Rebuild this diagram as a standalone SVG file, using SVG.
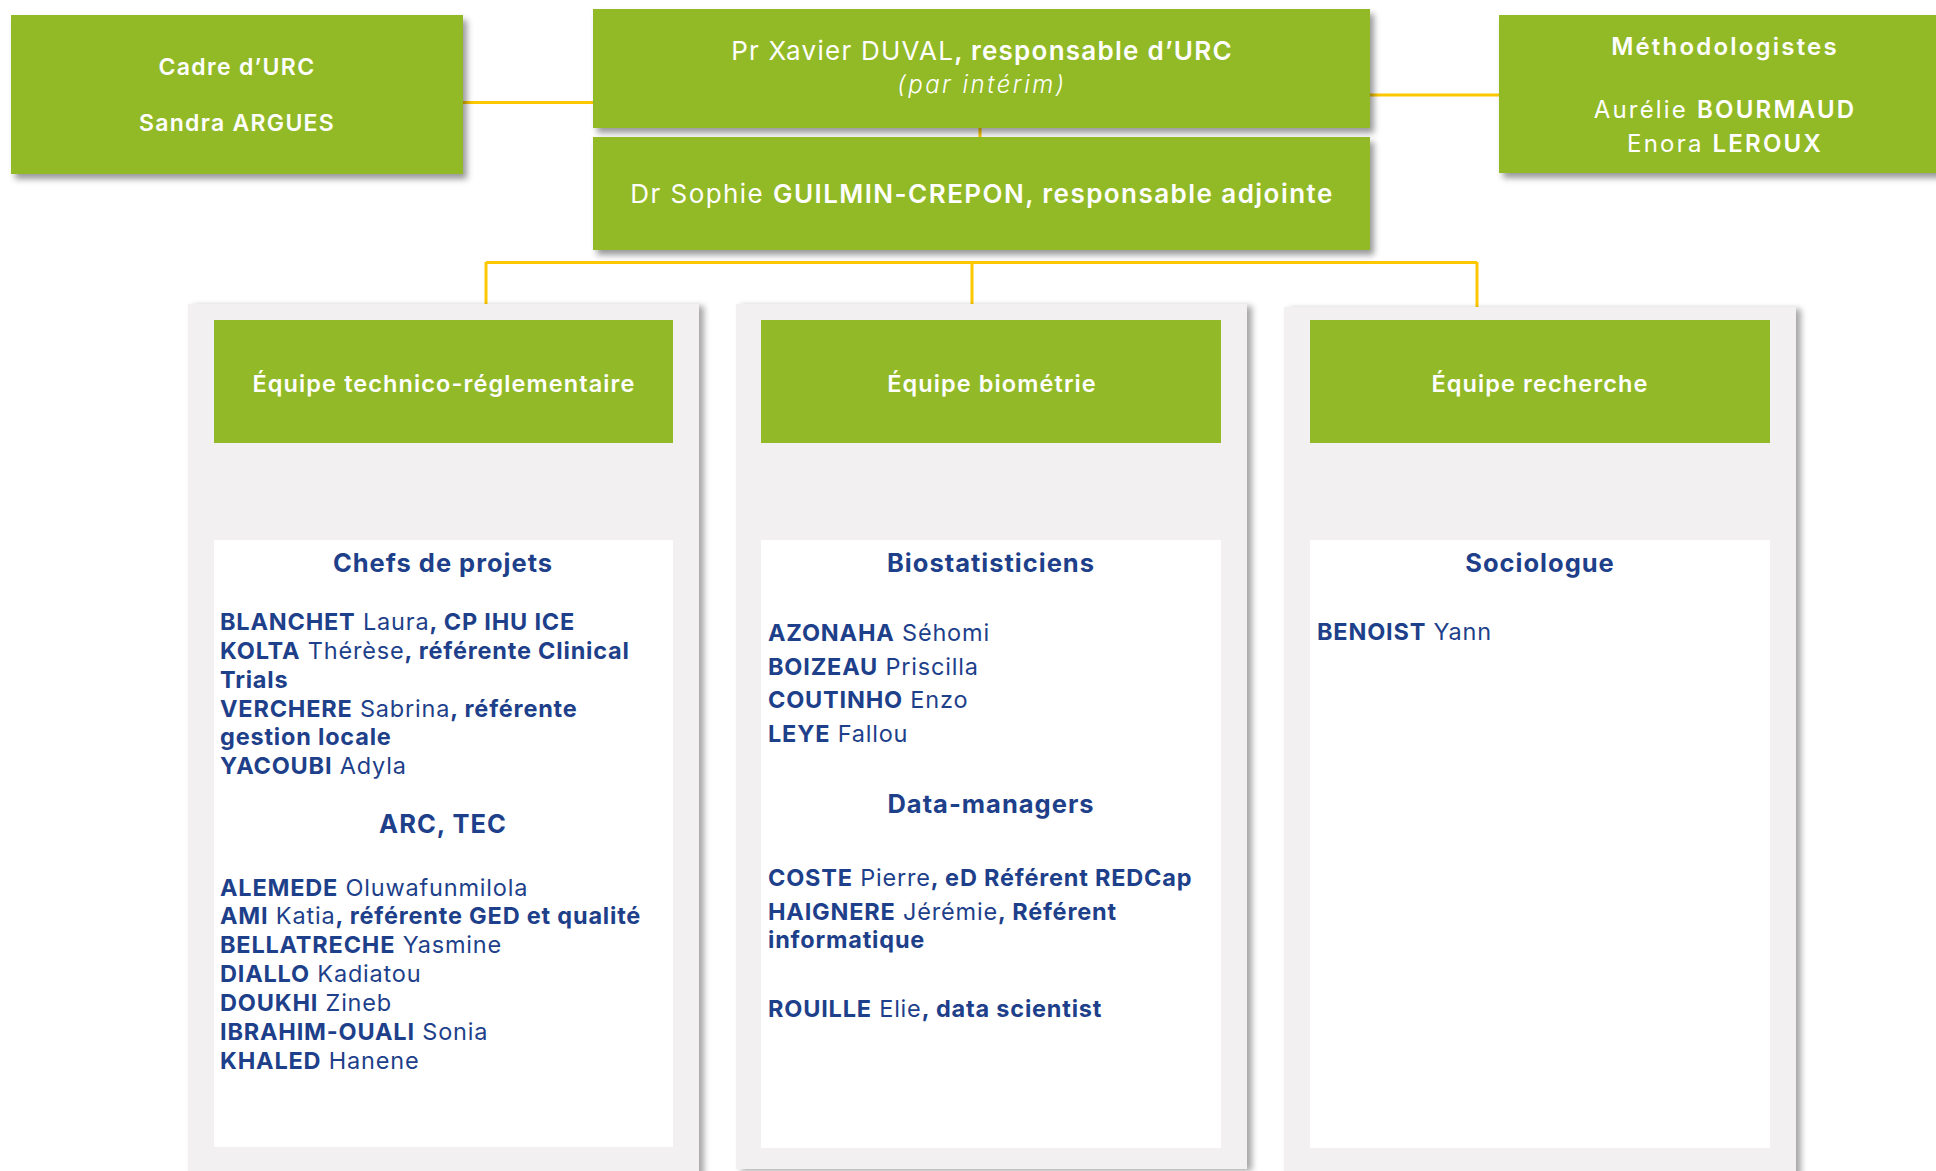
<svg xmlns="http://www.w3.org/2000/svg" width="1936" height="1171" viewBox="0 0 1936 1171">
<defs>
<filter id="sh" x="-5%" y="-10%" width="115%" height="130%">
<feDropShadow dx="4" dy="5" stdDeviation="3" flood-color="#000" flood-opacity="0.4"/>
</filter>
<filter id="shp" x="-5%" y="-5%" width="115%" height="115%">
<feDropShadow dx="5" dy="2" stdDeviation="3" flood-color="#000" flood-opacity="0.35"/>
</filter>
</defs>
<style>
.g{fill:#92BA28}
.p{fill:#F2F0F0}
.w{fill:#FFFFFF}
.c{stroke:#FDC800;stroke-width:3;fill:none}
text{font-family:Inter,"Open Sans","Noto Sans",sans-serif}
.wt{fill:#FFFFFF;text-anchor:middle}
.top{font-size:26px}
.cad{fill:#FFFFFF;font-size:23px;font-weight:600;letter-spacing:1.3px;text-anchor:middle}
.met{font-size:24px;letter-spacing:2.2px}
.hd{fill:#FFFFFF;font-size:23.5px;font-weight:600;letter-spacing:1.1px;text-anchor:middle}
.sec{fill:#1E3F8A;font-size:25.5px;font-weight:700;letter-spacing:1px;text-anchor:middle}
.bd{fill:#1E3F8A;font-size:23.5px;letter-spacing:0.8px}
.b{font-weight:700}
.sb{font-weight:600}
</style>
<rect width="1936" height="1171" fill="#FFFFFF"/>
<g id="connectors">
<line class="c" x1="463" y1="102.5" x2="593" y2="102.5"/>
<line class="c" x1="1369" y1="95" x2="1499" y2="95"/>
<line class="c" x1="980" y1="127" x2="980" y2="137"/>
<line class="c" x1="486" y1="262.5" x2="1477" y2="262.5"/>
<line class="c" x1="486" y1="262" x2="486" y2="304"/>
<line class="c" x1="972" y1="262" x2="972" y2="304"/>
<line class="c" x1="1477" y1="262" x2="1477" y2="308"/>
</g>
<g id="cadre">
<rect class="g" x="11" y="15" width="452" height="159" filter="url(#sh)"/>
<text class="cad" x="237" y="75">Cadre d’URC</text>
<text class="cad" x="237" y="131">Sandra ARGUES</text>
</g>
<g id="duval">
<rect class="g" x="593" y="9" width="777" height="119" filter="url(#sh)"/>
<text class="wt top" x="982" y="60" letter-spacing="1.25">Pr Xavier DUVAL<tspan class="sb">, responsable d’URC</tspan></text>
<text class="wt" x="982" y="93" font-size="24" letter-spacing="2.5" font-style="italic" font-weight="300">(par intérim)</text>
</g>
<g id="guilmin">
<rect class="g" x="593" y="137" width="777" height="113" filter="url(#sh)"/>
<text class="wt top" x="982" y="203" letter-spacing="1.45">Dr Sophie <tspan class="sb">GUILMIN-CREPON, responsable adjointe</tspan></text>
</g>
<g id="methodologistes">
<rect class="g" x="1499" y="15" width="460" height="158" filter="url(#sh)"/>
<text class="wt met sb" x="1725" y="55">Méthodologistes</text>
<text class="wt met" x="1725" y="118">Aurélie <tspan class="sb">BOURMAUD</tspan></text>
<text class="wt met" x="1725" y="152">Enora <tspan class="sb">LEROUX</tspan></text>
</g>
<g id="equipe-technico">
<rect class="p" x="188" y="304" width="511" height="880" filter="url(#shp)"/>
<rect class="g" x="214" y="320" width="459" height="123"/>
<rect class="w" x="214" y="540" width="459" height="607"/>
<text class="hd" x="444" y="392">Équipe technico-réglementaire</text>
<text class="sec" x="443" y="572">Chefs de projets</text>
<text class="bd" x="220" y="630"><tspan class="b">BLANCHET</tspan> Laura<tspan class="b">, CP IHU ICE</tspan></text>
<text class="bd" x="220" y="659"><tspan class="b">KOLTA</tspan> Thérèse<tspan class="b">, référente Clinical</tspan></text>
<text class="bd b" x="220" y="688">Trials</text>
<text class="bd" x="220" y="716.5"><tspan class="b">VERCHERE</tspan> Sabrina<tspan class="b">, référente</tspan></text>
<text class="bd b" x="220" y="745">gestion locale</text>
<text class="bd" x="220" y="774"><tspan class="b">YACOUBI</tspan> Adyla</text>
<text class="sec" x="443" y="833">ARC, TEC</text>
<text class="bd" x="220" y="896"><tspan class="b">ALEMEDE</tspan> Oluwafunmilola</text>
<text class="bd" x="220" y="924"><tspan class="b">AMI</tspan> Katia<tspan class="b">, référente GED et qualité</tspan></text>
<text class="bd" x="220" y="953"><tspan class="b">BELLATRECHE</tspan> Yasmine</text>
<text class="bd" x="220" y="982"><tspan class="b">DIALLO</tspan> Kadiatou</text>
<text class="bd" x="220" y="1011"><tspan class="b">DOUKHI</tspan> Zineb</text>
<text class="bd" x="220" y="1040"><tspan class="b">IBRAHIM-OUALI</tspan> Sonia</text>
<text class="bd" x="220" y="1069"><tspan class="b">KHALED</tspan> Hanene</text>
</g>
<g id="equipe-biometrie">
<rect class="p" x="736" y="304" width="511" height="865" filter="url(#shp)"/>
<rect class="g" x="761" y="320" width="460" height="123"/>
<rect class="w" x="761" y="540" width="460" height="608"/>
<text class="hd" x="992" y="392">Équipe biométrie</text>
<text class="sec" x="991" y="572">Biostatisticiens</text>
<text class="bd" x="768" y="641"><tspan class="b">AZONAHA</tspan> Séhomi</text>
<text class="bd" x="768" y="675"><tspan class="b">BOIZEAU</tspan> Priscilla</text>
<text class="bd" x="768" y="708"><tspan class="b">COUTINHO</tspan> Enzo</text>
<text class="bd" x="768" y="742"><tspan class="b">LEYE</tspan> Fallou</text>
<text class="sec" x="991" y="813">Data-managers</text>
<text class="bd" x="768" y="886"><tspan class="b">COSTE</tspan> Pierre<tspan class="b">, eD Référent REDCap</tspan></text>
<text class="bd" x="768" y="920"><tspan class="b">HAIGNERE</tspan> Jérémie<tspan class="b">, Référent</tspan></text>
<text class="bd b" x="768" y="948">informatique</text>
<text class="bd" x="768" y="1017"><tspan class="b">ROUILLE</tspan> Elie<tspan class="b">, data scientist</tspan></text>
</g>
<g id="equipe-recherche">
<rect class="p" x="1284" y="307" width="512" height="880" filter="url(#shp)"/>
<rect class="g" x="1310" y="320" width="460" height="123"/>
<rect class="w" x="1310" y="540" width="460" height="608"/>
<text class="hd" x="1540" y="392">Équipe recherche</text>
<text class="sec" x="1540" y="572">Sociologue</text>
<text class="bd" x="1317" y="640"><tspan class="b">BENOIST</tspan> Yann</text>
</g>
</svg>
